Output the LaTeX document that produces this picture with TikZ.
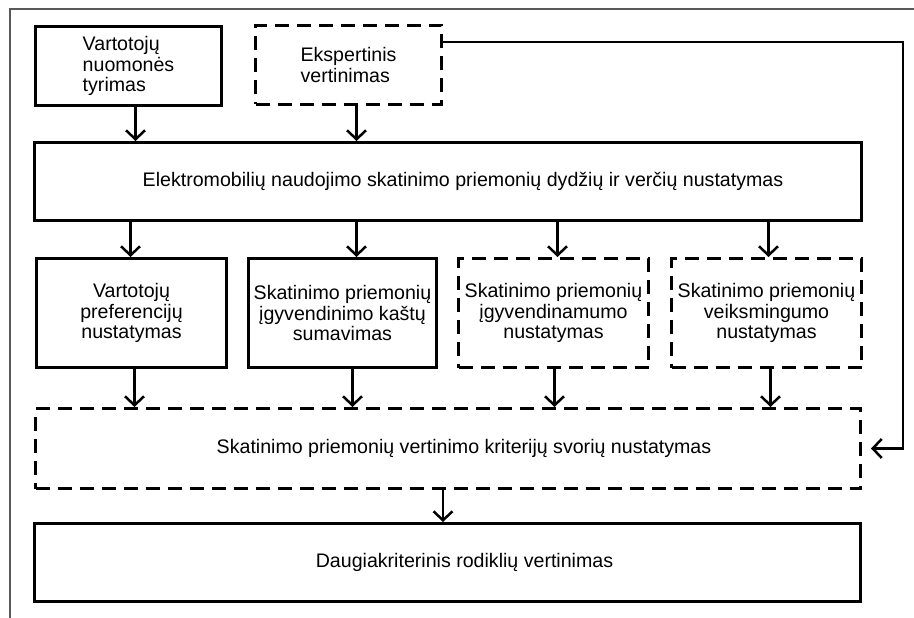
\documentclass[tikz,border=0pt]{standalone}
\usepackage{fontspec}
\setmainfont{Liberation Sans}
\usetikzlibrary{arrows.meta}
\tikzset{>={Straight Barb[length=9pt,width=19pt]}}
\tikzset{
  box/.style={draw,line width=3pt,align=center,inner sep=0pt,
    font=\fontsize{19.6}{20.5}\selectfont},
  dbox/.style={box,dash pattern=on 14pt off 8pt},
  arr/.style={->,line width=2.5pt}
}

\begin{document}
\begin{tikzpicture}[x=1pt,y=-1pt]
\useasboundingbox (0,0) rectangle (914,618);
\draw[line width=1.3pt,black!65] (10,618) -- (10,9) -- (914,9);
% inputs
\node[box,minimum width=186,minimum height=79,align=left] (cons) at (128.5,66)
  {Vartotojų\\nuomonės\\tyrimas};
\node[dbox,minimum width=186,minimum height=79,align=left] (eks) at (348.5,65)
  {Ekspertinis\\vertinimas};
\node[box,minimum width=827,minimum height=78] (mid) at (448,181.5)
  {\hspace*{30pt}Elektromobilių naudojimo skatinimo priemonių dydžių ir verčių nustatymas};
% four sub-tasks
\node[box,minimum width=190,minimum height=109] (pref) at (131.5,313)
  {Vartotojų\\preferencijų\\nustatymas};
\node[box,minimum width=188,minimum height=109] (cost) at (342.5,313)
  {Skatinimo priemonių\\įgyvendinimo kaštų\\sumavimas};
\node[dbox,minimum width=190,minimum height=109] (feas) at (553.5,313)
  {Skatinimo priemonių\\įgyvendinamumo\\nustatymas};
\node[dbox,minimum width=190,minimum height=109] (eff) at (766.5,313)
  {Skatinimo priemonių\\veiksmingumo\\nustatymas};
\node[dbox,minimum width=825,minimum height=80] (crit) at (448,448.5)
  {\hspace*{32pt}Skatinimo priemonių vertinimo kriterijų svorių nustatymas};
\node[box,minimum width=826,minimum height=78] (multi) at (447.5,562.5)
  {\hspace*{34pt}Daugiakriterinis rodiklių vertinimas};
% connectors
\draw[arr] ([xshift=7pt]cons.south) -- ([xshift=7pt]cons.south |- mid.north);
\draw[arr] ([xshift=8pt]eks.south) -- ([xshift=8pt]eks.south |- mid.north);
\draw[arr] ([xshift=-1pt]pref.north |- mid.south) -- ([xshift=-1pt]pref.north);
\draw[arr] ([xshift=14pt]cost.north |- mid.south) -- ([xshift=14pt]cost.north);
\draw[arr] ([xshift=4pt]feas.north |- mid.south) -- ([xshift=4pt]feas.north);
\draw[arr] ([xshift=2pt]eff.north |- mid.south) -- ([xshift=2pt]eff.north);
\draw[arr] ([xshift=3pt]pref.south) -- ([xshift=3pt]pref.south |- crit.north);
\draw[arr] ([xshift=10pt]cost.south) -- ([xshift=10pt]cost.south |- crit.north);
\draw[arr] ([xshift=1pt]feas.south) -- ([xshift=1pt]feas.south |- crit.north);
\draw[arr] ([xshift=4pt]eff.south) -- ([xshift=4pt]eff.south |- crit.north);
\draw[arr] ([xshift=-5pt]crit.south) -- ([xshift=-5pt]crit.south |- multi.north);
\draw[arr,shorten >=9pt] ([yshift=23pt]eks.east) -- ++(460,0) |- (crit.east);
\end{tikzpicture}
\end{document}
